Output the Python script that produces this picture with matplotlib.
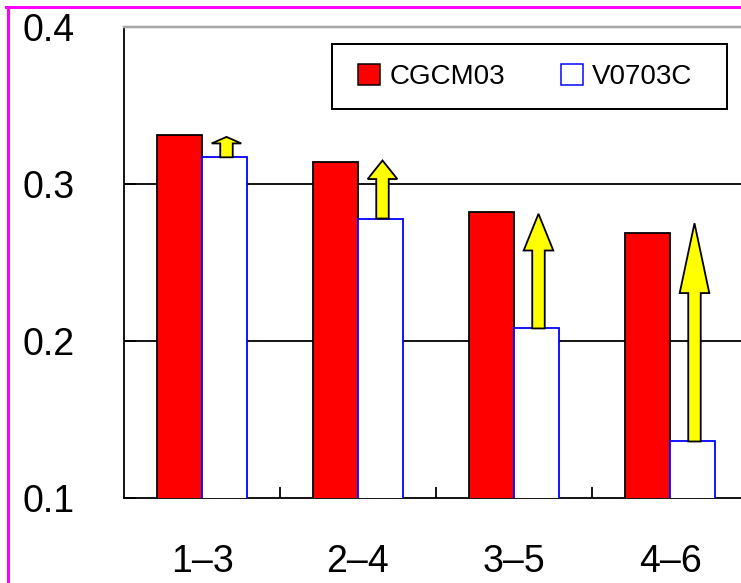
import matplotlib
matplotlib.use('Agg')
import matplotlib.pyplot as plt
from matplotlib.patches import Rectangle, FancyArrow, Patch
from matplotlib.lines import Line2D
import numpy as np

categories = ['1–3', '2–4', '3–5', '4–6']
cgcm03 = [0.331, 0.314, 0.282, 0.269]
v0703c = [0.317, 0.278, 0.208, 0.136]
arrow_top = [0.330, 0.315, 0.281, 0.275]
yticks = [0.1, 0.2, 0.3, 0.4]
ytick_labels = ['0.1', '0.2', '0.3', '0.4']
series_names = ['CGCM03', 'V0703C']

plt.rcParams['font.family'] = ['Liberation Sans', 'DejaVu Sans']

W, H = 741, 583
fig = plt.figure(figsize=(W / 100, H / 100), dpi=100)


def fx(px):
    return px / W


def fy(py):
    return 1 - py / H


PT = 0.72  # points per pixel at dpi 100

ax = fig.add_axes([fx(124), fy(498), fx(748) - fx(124), fy(27) - fy(498)])
x = np.arange(len(categories))
bw = 0.29

ax.bar(x - bw / 2, cgcm03, bw, color='#ff0000', edgecolor='black',
       linewidth=1.8 * PT, zorder=3)
ax.bar(x + bw / 2, v0703c, bw, color='white', edgecolor='#0000ff',
       linewidth=1.8 * PT, zorder=3.5)

# yellow arrows from V0703C bar tops up to target level
for xi, y0, y1 in zip(x, v0703c, arrow_top):
    L = y1 - y0
    ax.add_patch(FancyArrow(xi + bw / 2 + 0.012, y0, 0, L, width=0.08,
                            head_width=0.19, head_length=0.32 * L,
                            length_includes_head=True, facecolor='#ffff00',
                            edgecolor='black', linewidth=1.8 * PT, zorder=5))

ax.set_xlim(-0.5, len(categories) - 0.5)
ax.set_ylim(yticks[0], yticks[-1])

# interior gridlines
for v in yticks[1:-1]:
    ax.axhline(v, color='black', linewidth=1.8 * PT, zorder=1)

ax.spines['right'].set_visible(False)
ax.spines['top'].set_color('#a6a6a6')
ax.spines['top'].set_linewidth(2.5 * PT)
ax.spines['left'].set_linewidth(1.8 * PT)
ax.spines['bottom'].set_linewidth(1.8 * PT)

ax.set_yticks(yticks)
ax.set_yticklabels(ytick_labels)
ax.tick_params(axis='y', direction='in', length=12 * PT, width=1.8 * PT,
               pad=102 * PT, labelsize=27)
for lab in ax.get_yticklabels():
    lab.set_horizontalalignment('left')

ax.set_xticks(x)
ax.set_xticklabels(categories)
ax.set_xticks(x[:-1] + 0.5, minor=True)
ax.tick_params(axis='x', which='major', length=0, pad=46 * PT, labelsize=27)
ax.tick_params(axis='x', which='minor', direction='in', length=11 * PT,
               width=1.8 * PT)

# legend box
fig.add_artist(Rectangle((fx(332), fy(109)), fx(727) - fx(332), fy(44) - fy(109),
                         transform=fig.transFigure, fill=False,
                         edgecolor='black', linewidth=2 * PT, zorder=10))
handles = [Patch(facecolor='#ff0000', edgecolor='black', linewidth=1.5 * PT),
           Patch(facecolor='white', edgecolor='#0000ff', linewidth=1.5 * PT)]
fig.legend(handles, series_names, loc='center left',
           bbox_to_anchor=(fx(358), fy(77)), bbox_transform=fig.transFigure,
           frameon=False, ncol=2, fontsize=20, borderpad=0, borderaxespad=0,
           handlelength=0.8, handleheight=0.8, handletextpad=0.33,
           columnspacing=2.0)

# magenta page border
fig.add_artist(Line2D([fx(7.5), fx(7.5)], [fy(6.5), 0], transform=fig.transFigure,
                      color='#ff00ff', linewidth=3 * PT))
fig.add_artist(Line2D([fx(6), 1], [fy(6.5), fy(6.5)], transform=fig.transFigure,
                      color='#ff00ff', linewidth=3 * PT))

fig.savefig('out.png', dpi=100)
